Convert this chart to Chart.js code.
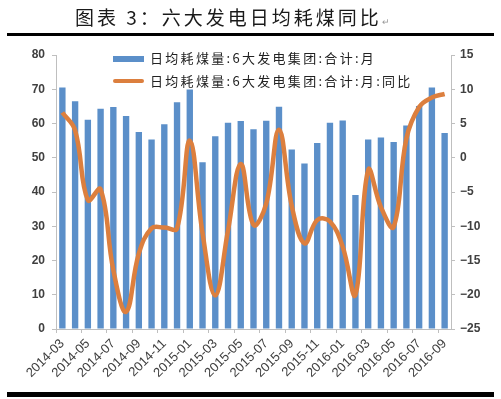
<!DOCTYPE html>
<html><head><meta charset="utf-8">
<script src="https://cdn.jsdelivr.net/npm/chart.js@4/dist/chart.umd.min.js"></script>
<style>
html,body{margin:0;padding:0;background:#fff;width:501px;height:399px;overflow:hidden}
#wrap{position:absolute;left:0;top:0;width:501px;height:399px}
#title{position:absolute;left:75px;top:6px;line-height:22px;font-size:19px;font-family:"Noto Sans CJK SC",sans-serif;letter-spacing:3px;color:#1a1a1a;white-space:nowrap}
#title span{font-size:9px;color:#999;letter-spacing:0}
.rule{position:absolute;left:7px;width:487px;background:#000}
</style></head><body>
<div id="wrap"><canvas id="c" width="501" height="399"></canvas></div>
<div id="title">图表 3：六大发电日均耗煤同比<span>↵</span></div>
<div class="rule" style="top:33px;height:3px"></div>
<div class="rule" style="top:392px;height:5px"></div>
<script>
const months = ["2014-03","2014-04","2014-05","2014-06","2014-07","2014-08","2014-09","2014-10","2014-11","2014-12",
  "2015-01","2015-02","2015-03","2015-04","2015-05","2015-06","2015-07","2015-08","2015-09","2015-10","2015-11","2015-12",
  "2016-01","2016-02","2016-03","2016-04","2016-05","2016-06","2016-07","2016-08","2016-09"];
const dailyCoal = [70.5,66.5,61.1,64.3,64.8,62.2,57.5,55.3,59.8,66.2,69.9,48.7,56.3,60.2,60.7,58.3,
  60.8,64.9,52.4,48.3,54.3,60.2,60.9,39.1,55.3,55.9,54.6,59.4,65.1,70.5,57.2];
const yoy = [6.6,4.0,-6.2,-4.6,-16.4,-22.5,-14.0,-10.3,-10.2,-10.3,2.5,-11.0,-20.1,-10.6,-0.9,-9.8,
  -6.7,4.1,-7.0,-12.5,-9.1,-9.3,-13.0,-20.0,-1.8,-7.2,-10.1,2.8,7.4,8.8,9.3];
const leftTicks = [0,80,10];
const rightTicks = [-25,15,5];
const seriesNames = ["日均耗煤量:6大发电集团:合计:月","日均耗煤量:6大发电集团:合计:月:同比"];

const BAR = '#5B8FC9', LINE = '#DC7F3E', AX = '#BFBFBF', TXT = '#404040';
const tickFont = {family:'"Liberation Sans", Arial, sans-serif', size:12, weight:'bold'};

const legendPlugin = {
  id:'customLegend',
  afterDraw(chart){
    const ctx = chart.ctx;
    ctx.save();
    ctx.fillStyle = BAR;
    ctx.fillRect(113,56,31,6);
    ctx.strokeStyle = LINE; ctx.lineWidth = 4; ctx.lineCap='round';
    ctx.beginPath(); ctx.moveTo(115,81); ctx.lineTo(142,81); ctx.stroke();
    ctx.fillStyle = '#222';
    ctx.font = '13px "Noto Sans CJK SC"';
    ctx.textBaseline = 'middle';
    try{ ctx.letterSpacing = '2.3px'; }catch(e){}
    ctx.fillText(chart.data.datasets[0].label,150,58);
    ctx.fillText(chart.data.datasets[1].label,150,81);
    ctx.restore();
  }
};

new Chart(document.getElementById('c'),{
  data:{
    labels: months,
    datasets:[
      {type:'bar',label:seriesNames[0],data:dailyCoal,backgroundColor:BAR,yAxisID:'y',order:2,
       barPercentage:1,categoryPercentage:0.5},
      {type:'line',label:seriesNames[1],data:yoy,borderColor:LINE,borderWidth:4.5,pointRadius:0,
       tension:0.4,yAxisID:'y1',order:1,fill:false}
    ]
  },
  options:{
    responsive:false,animation:false,
    layout:{padding:{top:55,left:0,right:0,bottom:0}},
    plugins:{legend:{display:false},tooltip:{enabled:false}},
    scales:{
      x:{offset:true,
        grid:{drawOnChartArea:false,drawTicks:true,tickLength:4,offset:true,
          color:(c)=> (c.index%2===0 ? AX : 'rgba(0,0,0,0)')},
        border:{color:AX},
        ticks:{autoSkip:false,maxRotation:45,minRotation:45,color:TXT,font:{family:'"Liberation Sans", Arial, sans-serif',size:13},padding:3,
          callback:function(v,i){return i%2===0 ? this.getLabelForValue(v) : '';}},
        afterFit:(s)=>{s.height=70;}
      },
      y:{position:'left',min:leftTicks[0],max:leftTicks[1],
        ticks:{stepSize:leftTicks[2],color:TXT,font:tickFont,padding:7},
        grid:{drawOnChartArea:false,tickLength:4,color:AX},border:{color:AX},
        afterFit:(s)=>{s.width=56;}
      },
      y1:{position:'right',min:rightTicks[0],max:rightTicks[1],
        ticks:{stepSize:rightTicks[2],color:TXT,font:tickFont,padding:5,
          callback:(v)=> v<0 ? '\u2212'+Math.abs(v) : String(v)},
        grid:{drawOnChartArea:false,tickLength:4,color:AX},border:{color:AX},
        afterFit:(s)=>{s.width=50;}
      }
    }
  },
  plugins:[legendPlugin]
});
</script>
</body></html>
